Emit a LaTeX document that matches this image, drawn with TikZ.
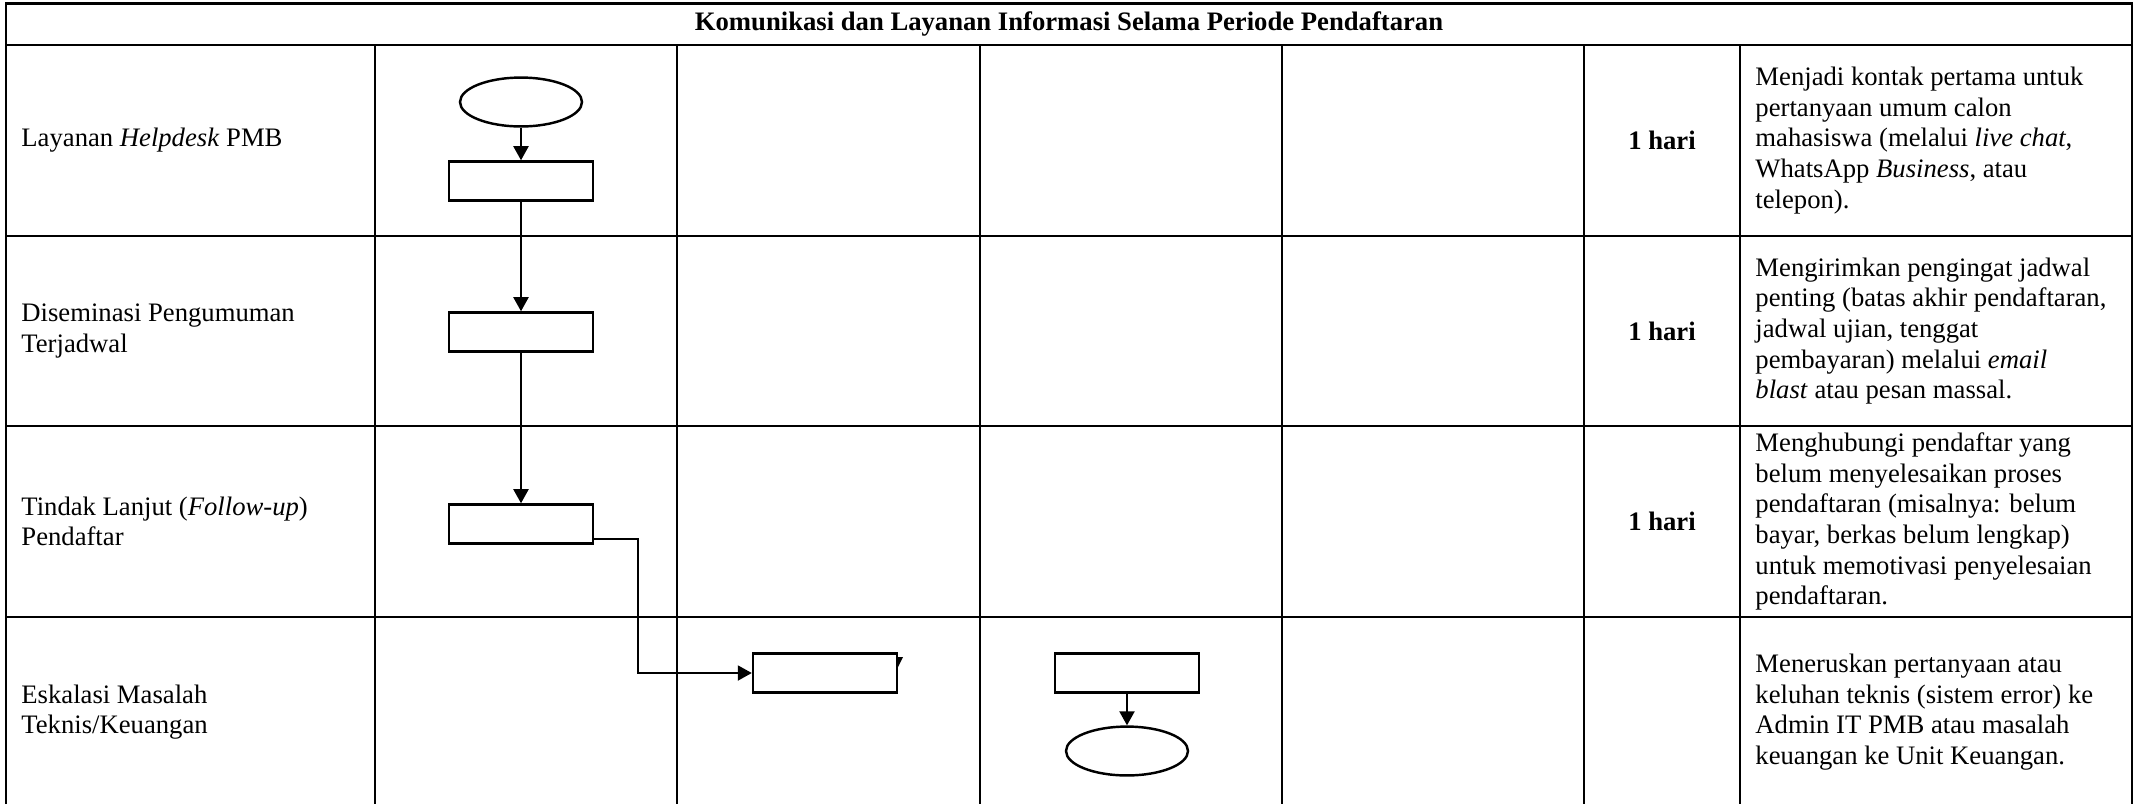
\documentclass[tikz,border=0pt]{standalone}
\usepackage{fontspec}
\setmainfont{Liberation Serif}
\usetikzlibrary{arrows.meta,shapes.geometric,calc}
\begin{document}
\begin{tikzpicture}[x=0.45pt,y=-0.45pt,
  tbl/.style={line width=1.1pt},
  txt/.style={font=\fontsize{12}{13.8}\selectfont, inner sep=0pt, align=left, anchor=west},
  dur/.style={font=\fontsize{12}{13.8}\selectfont\bfseries, inner sep=0pt, anchor=center},
  proc/.style={draw, line width=1.1pt, minimum width=64.8pt, minimum height=17.6pt, inner sep=0pt},
  term/.style={draw, ellipse, line width=1.1pt, minimum width=54.9pt, minimum height=22pt, inner sep=0pt},
  conn/.style={line width=0.75pt, -{Triangle[width=6.8pt,length=6.3pt]}},
]
\useasboundingbox (0,0) rectangle (2138,804);

% table frame
\draw[tbl] (6,804) -- (6,3.5) -- (2132,3.5) -- (2132,804);
\foreach \y in {45,236,426,617} \draw[tbl] (6,\y) -- (2132,\y);
\foreach \x in {375,677,980,1282,1584,1740} \draw[tbl] (\x,45) -- (\x,804);

% header
\node[dur] (title) at (1069,24) {Komunikasi dan Layanan Informasi Selama Periode Pendaftaran};

% activity labels
\node[txt] (a1) at (21,140.5) {Layanan \textit{Helpdesk} PMB};
\node[txt] (a2) at (21,331) {Diseminasi Pengumuman\\Terjadwal};
\node[txt] (a3) at (21,521.5) {Tindak Lanjut (\textit{Follow-up})\\Pendaftar};
\node[txt] (a4) at (21,712) {Eskalasi Masalah\\Teknis/Keuangan};

% durations
\node[dur] (d1) at (1662,140.5) {1 hari};
\node[dur] (d2) at (1662,331) {1 hari};
\node[dur] (d3) at (1662,521.5) {1 hari};

% descriptions
\node[txt] (k1) at (1755,140.5) {Menjadi kontak pertama untuk\\pertanyaan umum calon\\mahasiswa (melalui \textit{live chat},\\WhatsApp \textit{Business}, atau\\telepon).};
\node[txt] (k2) at (1755,331) {Mengirimkan pengingat jadwal\\penting (batas akhir pendaftaran,\\jadwal ujian, tenggat\\pembayaran) melalui \textit{email}\\\textit{blast} atau pesan massal.};
\node[txt] (k3) at (1755,521.5) {Menghubungi pendaftar yang\\belum menyelesaikan proses\\pendaftaran (misalnya: belum\\bayar, berkas belum lengkap)\\untuk memotivasi penyelesaian\\pendaftaran.};
\node[txt] (k4) at (1755,712) {Meneruskan pertanyaan atau\\keluhan teknis (sistem error) ke\\Admin IT PMB atau masalah\\keuangan ke Unit Keuangan.};

% flow shapes
\node[term] (e1) at (521,102) {};
\node[proc] (r1) at (521,181) {};
\node[proc] (r2) at (521,332) {};
\node[proc] (r3) at (521,524) {};
\node[proc] (r4a) at (825,673) {};
\node[proc] (r4b) at (1127,673) {};
\node[term] (e4) at (1127,751) {};

% connectors
\coordinate (b1) at (638,539);
\draw[conn] (e1) -- (r1);
\draw[conn] (r1) -- (r2);
\draw[conn] (r2) -- (r3);
\draw[conn] (r3.east |- b1) -- (b1) |- (r4a.west);
\draw[conn] (r4b) -- (e4);

% small arrowhead remnant beside the box
\fill (897,657) -- (903,657) -- (898,667) -- cycle;
\end{tikzpicture}
\end{document}
